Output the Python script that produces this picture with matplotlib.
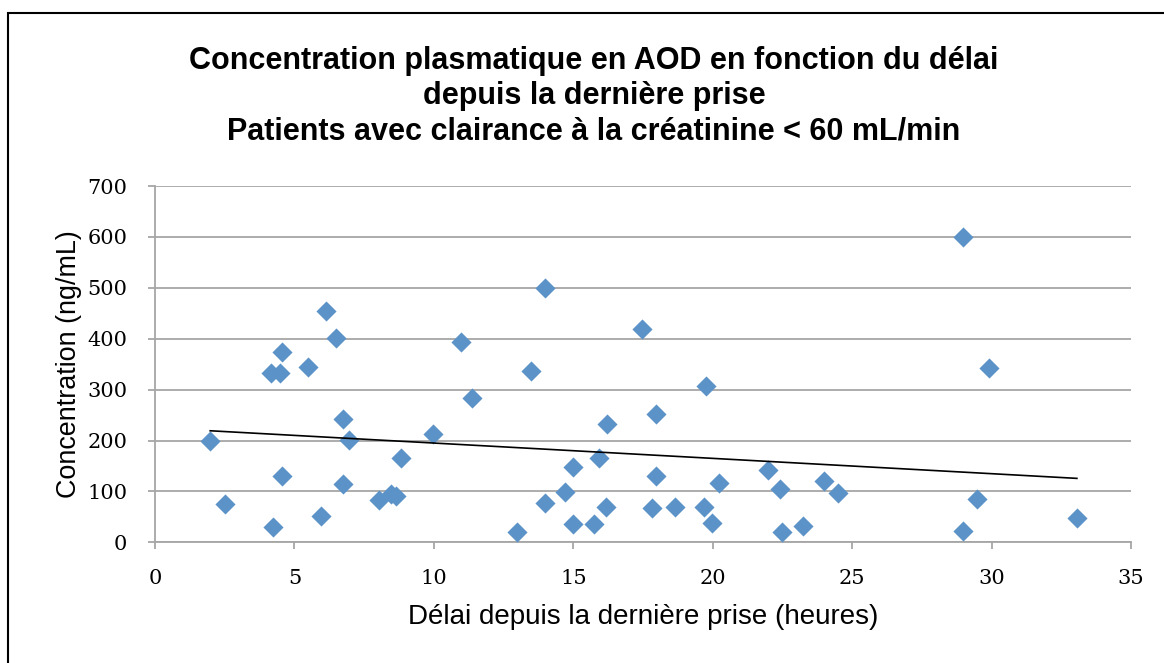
import numpy as np
import matplotlib.pyplot as plt
from matplotlib.patches import Rectangle

# delai depuis la derniere prise (heures)
delai = [1.98, 2.50, 4.15, 4.48, 4.56, 4.56, 4.23, 5.47, 6.15, 6.48,
         5.96, 6.74, 6.97, 6.74, 8.02, 8.48, 8.66, 8.83, 9.98, 10.99,
         11.38, 12.99, 13.48, 13.99, 13.99, 14.72, 15.00, 15.00, 15.74, 15.94,
         16.20, 16.17, 17.48, 17.82, 17.98, 17.98, 18.64, 19.68, 19.75, 19.96,
         20.23, 21.99, 22.40, 22.48, 23.25, 23.99, 24.48, 28.97, 28.97, 29.49,
         29.90, 33.06]
# concentration (ng/mL)
concentration = [200, 76, 333, 333, 374, 131, 31, 345, 455, 402,
                 52, 243, 201, 114, 84, 95, 90, 166, 212, 394,
                 283, 20, 336, 500, 78, 99, 147, 35, 36, 166,
                 232, 70, 419, 67, 253, 130, 70, 69, 308, 37,
                 117, 142, 105, 21, 33, 120, 96, 600, 23, 86,
                 343, 48]

x_ticks = [0, 5, 10, 15, 20, 25, 30, 35]
y_ticks = [0, 100, 200, 300, 400, 500, 600, 700]

titre = ("Concentration plasmatique en AOD en fonction du délai\n"
         "depuis la dernière prise\n"
         "Patients avec clairance à la créatinine < 60 mL/min")

fig = plt.figure(figsize=(11.64, 6.63), dpi=100)
W, H = 1164, 663

# outer chart frame (left and top edges visible)
fig.patches.append(Rectangle((8 / W, -0.1), 1.2, 1 - 13 / H + 0.1,
                             transform=fig.transFigure, fill=False,
                             edgecolor='black', linewidth=1.5))

ax = fig.add_axes([155 / W, 1 - 542.3 / H, (1131 - 155) / W, (542.3 - 186) / H])

grey = '#a6a6a6'
ax.set_xlim(0, 35)
ax.set_ylim(0, 700)
ax.set_xticks(x_ticks)
ax.set_yticks(y_ticks)
ax.grid(axis='y', color=grey, linewidth=1.3)
ax.set_axisbelow(True)
for side in ['top', 'right']:
    ax.spines[side].set_visible(False)
for side in ['left', 'bottom']:
    ax.spines[side].set_color(grey)
    ax.spines[side].set_linewidth(1.3)
ax.tick_params(direction='out', length=5, width=1.3, color=grey,
               labelsize=15)
ax.tick_params(axis='x', pad=14)
ax.tick_params(axis='y', pad=15)
for lab in ax.get_xticklabels() + ax.get_yticklabels():
    lab.set_fontfamily('DejaVu Serif')

ax.scatter(delai, concentration, marker='D', s=105, color='#5b93c9',
           zorder=3, linewidths=0)

# linear trendline
a, b = np.polyfit(delai, concentration, 1)
xt = np.array([min(delai), max(delai)])
ax.plot(xt, a * xt + b, color='black', linewidth=1.2, zorder=4)

ax.set_xlabel('Délai depuis la dernière prise (heures)', fontsize=20,
              family='Liberation Sans', labelpad=12)
ax.set_ylabel('Concentration (ng/mL)', fontsize=19.4,
              family='Liberation Sans', labelpad=3.5)

fig.text(594 / W, 1 - 96 / H, titre, ha='center', va='center',
         fontsize=22, fontweight='bold', family='Liberation Sans',
         linespacing=1.22)

fig.savefig('out.png', dpi=100)
